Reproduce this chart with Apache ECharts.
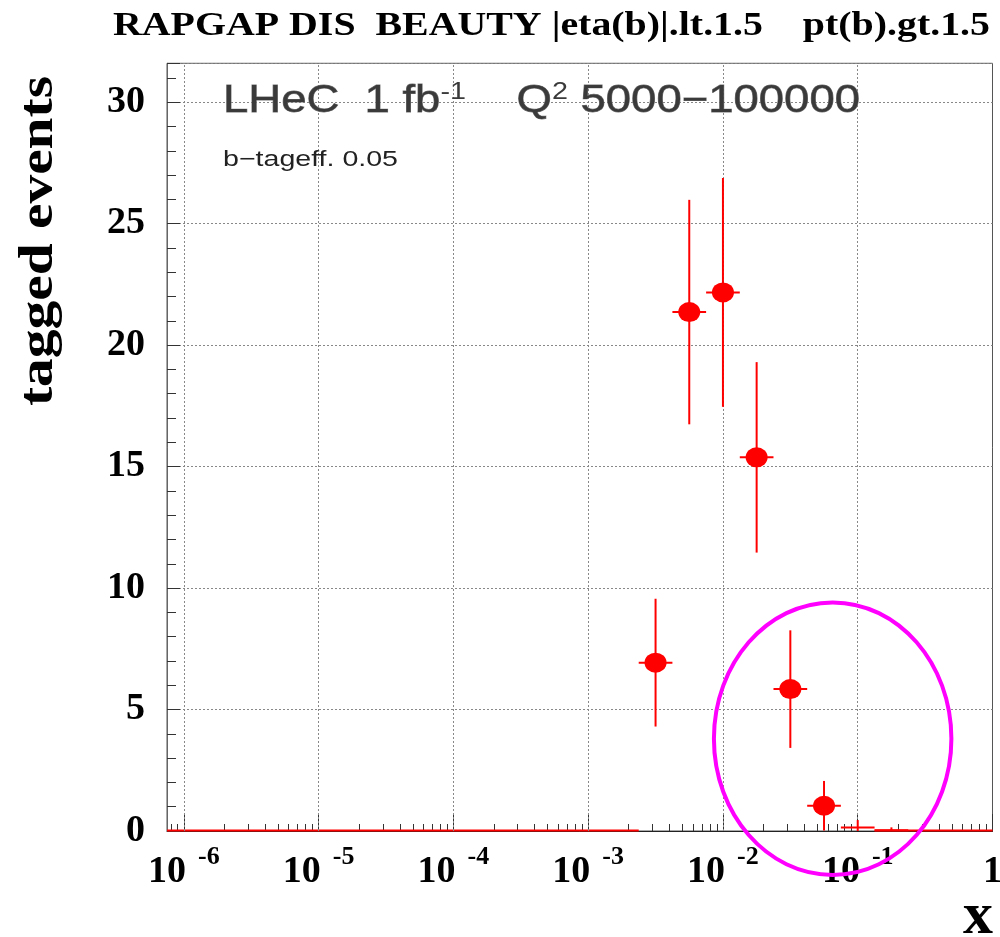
<!DOCTYPE html>
<html><head><meta charset="utf-8">
<script src="https://cdn.jsdelivr.net/npm/echarts@6/dist/echarts.min.js"></script>
<style>html,body{margin:0;padding:0;background:#fff}#c{width:1000px;height:937px}</style>
</head><body><div id="c"></div>
<script>
// ---- data ----
const titleText = 'RAPGAP DIS  BEAUTY |eta(b)|.lt.1.5    pt(b).gt.1.5';
const yTitle = 'tagged events';
const xTitle = 'x';
const xDecades = [-6, -5, -4, -3, -2, -1, 0];          // log10(x) of labelled ticks
const minorMultipliers = [2, 3, 4, 5, 6, 7, 8, 9];
const yTicks = [0, 5, 10, 15, 20, 25, 30];
const yMinorTicks = [1, 2, 3, 4, 6, 7, 8, 9, 11, 12, 13, 14, 16, 17, 18, 19, 21, 22, 23, 24, 26, 27, 28, 29, 31];
const binCenters = [-2.5, -2.25, -2.0, -1.75, -1.5, -1.25, -1.0, -0.75]; // log10(x)
const binHalfWidth = 0.125;
const counts = [6.93, 21.36, 22.17, 15.38, 5.84, 1.04, 0.14, 0.03];
const errors = [2.63, 4.62, 4.71, 3.92, 2.42, 1.02, 0.31, 0.12];
const markerShown = [true, true, true, true, true, true, false, false];
const zeroSegments = [[-6.125, -2.625], [-0.875, 0]];
const ellipseData = [[-1.186, 3.80, 0.881, 5.61]]; // centre log10x, centre y, radius (decades), radius (events)
const X_MIN = -6.125, X_MAX = 0, Y_MIN = 0, Y_MAX = 31.6;

// ---- helpers ----
const SERIF = '"Liberation Serif", "Times New Roman", serif';
const SANS = '"Liberation Sans", Arial, sans-serif';
const mctx = document.createElement('canvas').getContext('2d');
function measure(text, size, family, weight) {
  mctx.font = (weight || 'normal') + ' ' + size + 'px ' + family;
  return mctx.measureText(text).width;
}
const minorTicks = [];
for (let d = -7; d < 0; d++) {
  minorMultipliers.forEach(m => {
    const v = d + Math.log10(m);
    if (v > X_MIN && v < X_MAX) minorTicks.push(v);
  });
}
const RED = '#ff0000';

const chart = echarts.init(document.getElementById('c'));

const titleSize = 34;
const titleScale = 877 / measure(titleText, titleSize, SERIF, 'bold');
const yTitleSize = 48;
const yTitleScale = 330 / measure(yTitle, yTitleSize, SERIF, 'bold');
const lhecSegs = [['LHeC  1 fb', 38], ['-1', 24], ['    Q', 38], ['2', 24], [' 5000\u2212100000', 38]];
let lhecW = 0; lhecSegs.forEach(s => lhecW += measure(s[0], s[1], SANS));
const lhecScale = 637 / lhecW;
const tagText = 'b\u2212tageff. 0.05';
const tagScale = 175 / measure(tagText, 22, SANS);

const tickStyle = { color: '#333', width: 1 };

const option = {
  animation: false,
  backgroundColor: '#fff',
  grid: { left: 167, right: 7.5, top: 63.3, bottom: 106, show: true, borderColor: '#555', borderWidth: 1,
    backgroundColor: 'transparent', containLabel: false, outerBoundsMode: 'none' },
  xAxis: [
    {
      type: 'value', min: X_MIN, max: X_MAX, position: 'bottom',
      axisLine: { show: true, onZero: false, lineStyle: { color: '#222', width: 1 } },
      axisTick: { show: true, inside: true, length: 17, customValues: xDecades, lineStyle: tickStyle },
      splitLine: { show: false },
      axisLabel: {
        show: true, customValues: xDecades, margin: 13, color: '#000', hideOverlap: false,
        formatter: function (v) {
          const e = Math.round(v);
          return e === 0 ? '{b|1}' : '{b|10}{s|' + e + '}';
        },
        rich: {
          b: { fontFamily: SERIF, fontWeight: 'bold', fontSize: 38, lineHeight: 56, color: '#000' },
          s: { fontFamily: SERIF, fontWeight: 'bold', fontSize: 26, lineHeight: 14, verticalAlign: 'top', color: '#000', padding: [0, 0, 0, 12] }
        }
      }
    },
    {
      type: 'value', min: X_MIN, max: X_MAX, position: 'bottom',
      axisLine: { show: false, onZero: false },
      axisTick: { show: true, inside: true, length: 7, customValues: minorTicks, lineStyle: tickStyle },
      axisLabel: { show: false },
      splitLine: { show: false }
    }
  ],
  yAxis: [
    {
      type: 'value', min: Y_MIN, max: Y_MAX, interval: 5, position: 'left',
      axisLine: { show: true, onZero: false, lineStyle: { color: '#666', width: 1 } },
      axisTick: { show: true, inside: true, length: 13, lineStyle: tickStyle },
      minorTick: { show: false },
      splitLine: { show: true, lineStyle: { color: '#888', type: [2, 2], width: 1 } },
      axisLabel: { margin: 22, color: '#000', fontFamily: SERIF, fontWeight: 'bold', fontSize: 38,
        formatter: v => (yTicks.indexOf(v) >= 0 ? String(v) : '') }
    },
    {
      type: 'value', min: Y_MIN, max: Y_MAX, position: 'left',
      axisLine: { show: false, onZero: false },
      axisTick: { show: true, inside: true, length: 9, customValues: yMinorTicks, lineStyle: tickStyle },
      axisLabel: { show: false },
      splitLine: { show: false }
    }
  ],
  graphic: [
    { type: 'text', x: 113, y: 26, scaleX: titleScale, z: 10,
      style: { text: titleText, font: 'bold ' + titleSize + 'px ' + SERIF, fill: '#000', align: 'left', verticalAlign: 'middle', textAlign: 'left', textVerticalAlign: 'middle' } },
    { type: 'text', x: 40, y: 241, rotation: Math.PI / 2, scaleX: yTitleScale, z: 10,
      style: { text: yTitle, font: 'bold ' + yTitleSize + 'px ' + SERIF, fill: '#000', align: 'center', verticalAlign: 'middle', textAlign: 'center', textVerticalAlign: 'middle' } },
    { type: 'text', x: 993, y: 917, z: 10,
      style: { text: xTitle, font: 'bold 60px ' + SERIF, fill: '#000', align: 'right', verticalAlign: 'middle', textAlign: 'right', textVerticalAlign: 'middle' } },
    { type: 'text', x: 223, y: 102, scaleX: lhecScale, z: 10,
      style: {
        text: '{n|LHeC  1 fb}{s|-1}{n|    Q}{s|2}{n| 5000\u2212100000}',
        align: 'left', verticalAlign: 'middle', textAlign: 'left', textVerticalAlign: 'middle',
        rich: {
          n: { fontFamily: SANS, fontSize: 38, lineHeight: 44, fill: '#3a3a3a', color: '#3a3a3a', stroke: '#777', lineWidth: 0.8 },
          s: { fontFamily: SANS, fontSize: 24, lineHeight: 20, verticalAlign: 'top', fill: '#3a3a3a', color: '#3a3a3a' }
        }
      } },
    { type: 'text', x: 223, y: 160, scaleX: tagScale, z: 10,
      style: { text: tagText, font: '22px ' + SANS, fill: '#222', align: 'left', verticalAlign: 'middle', textAlign: 'left', textVerticalAlign: 'middle' } }
  ],
  series: [
    {
      name: 'grid', type: 'scatter', data: [], z: 1, silent: true,
      markLine: {
        silent: true, symbol: ['none', 'none'], label: { show: false },
        lineStyle: { color: '#888', type: [2, 2], width: 1 },
        data: xDecades.filter(d => d > X_MIN && d < X_MAX).map(d => ({ xAxis: d }))
      }
    },
    {
      name: 'zero bins', type: 'custom', z: 4, silent: true, clip: false,
      data: zeroSegments,
      renderItem: function (params, api) {
        const a = api.coord([api.value(0), 0]);
        const b = api.coord([api.value(1), 0]);
        return { type: 'line', shape: { x1: a[0], y1: a[1] - 0.5, x2: b[0], y2: b[1] - 0.5 }, style: { stroke: RED, lineWidth: 2 } };
      }
    },
    {
      name: 'errors', type: 'custom', z: 5, silent: true,
      data: binCenters.map((c, i) => [c, counts[i], errors[i]]),
      renderItem: function (params, api) {
        const x = api.value(0), y = api.value(1), e = api.value(2);
        const l = api.coord([x - binHalfWidth, y]);
        const r = api.coord([x + binHalfWidth, y]);
        const t = api.coord([x, y + e]);
        const b = api.coord([x, Math.max(0, y - e)]);
        return { type: 'group', children: [
          { type: 'line', shape: { x1: l[0], y1: l[1], x2: r[0], y2: r[1] }, style: { stroke: RED, lineWidth: 2 } },
          { type: 'line', shape: { x1: t[0], y1: t[1], x2: b[0], y2: b[1] }, style: { stroke: RED, lineWidth: 2 } }
        ] };
      }
    },
    {
      name: 'tagged', type: 'scatter', z: 6, silent: true,
      symbol: 'circle', symbolSize: [22, 20],
      itemStyle: { color: RED, opacity: 1 },
      data: binCenters.map((c, i) => [c, counts[i]]).filter((d, i) => markerShown[i])
    },
    {
      name: 'ellipse', type: 'custom', z: 20, silent: true, clip: false,
      data: ellipseData,
      renderItem: function (params, api) {
        const c = api.coord([api.value(0), api.value(1)]);
        const s = api.size([api.value(2), api.value(3)]);
        return { type: 'ellipse', z2: 100, shape: { cx: c[0], cy: c[1], rx: s[0], ry: s[1] }, style: { stroke: '#ff00ff', lineWidth: 4, fill: 'none' } };
      }
    }
  ]
};
chart.setOption(option);
</script>
</body></html>
